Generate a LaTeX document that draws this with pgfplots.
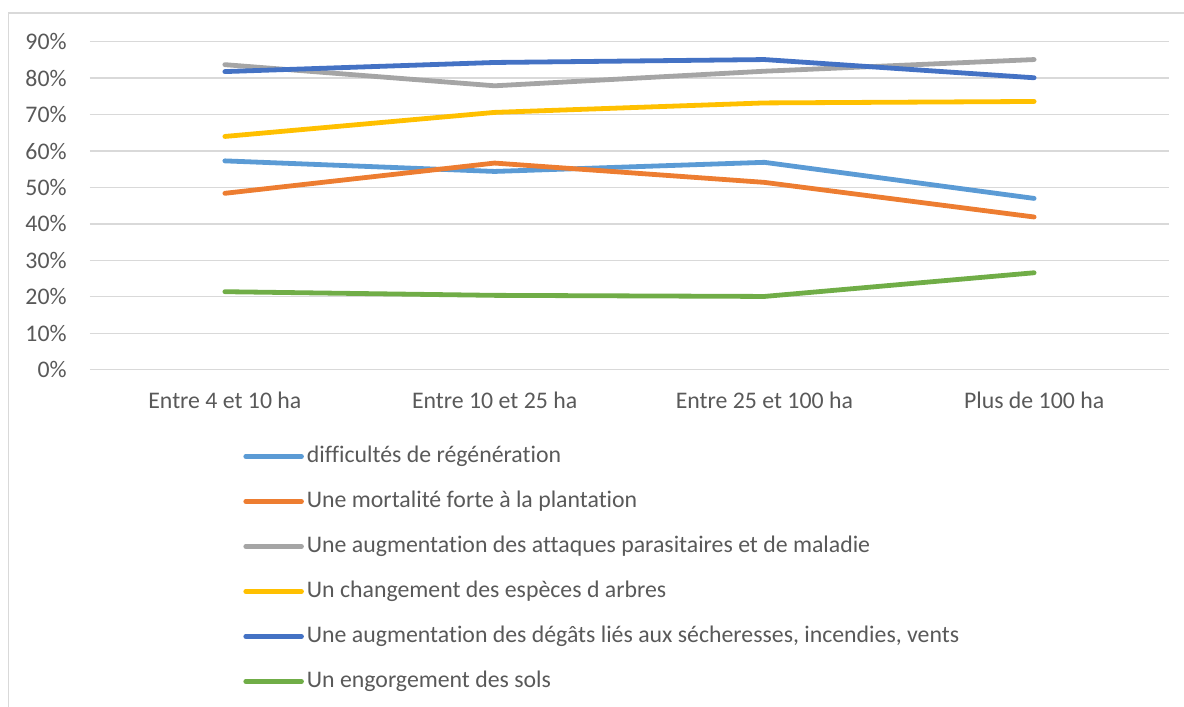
\documentclass[border=0pt]{standalone}
\usepackage{fontspec}
\setmainfont[Ligatures=NoCommon]{Carlito}
\usepackage{pgfplots}
\pgfplotsset{compat=1.18}
\definecolor{txt}{HTML}{595959}
\definecolor{grd}{HTML}{D9D9D9}
\definecolor{cA}{HTML}{5B9BD5}
\definecolor{cB}{HTML}{ED7D31}
\definecolor{cC}{HTML}{A5A5A5}
\definecolor{cD}{HTML}{FFC000}
\definecolor{cE}{HTML}{4472C4}
\definecolor{cF}{HTML}{70AD47}
\begin{document}
\begin{tikzpicture}
\path[use as bounding box] (0,0) rectangle (592pt,353.5pt);
\draw[grd, line width=0.9pt] (4.25pt,-5pt) -- (4.25pt,347pt) -- (600pt,347pt);
\begin{axis}[
 at={(45pt,168.65pt)}, anchor=south west,
 scale only axis, width=539.5pt, height=164pt,
 xmin=-0.5, xmax=3.5, ymin=0, ymax=90,
 xtick={0,1,2,3},
 xticklabels={Entre 4 et 10 ha, Entre 10 et 25 ha, Entre 25 et 100 ha, Plus de 100 ha},
 ytick={0,10,...,90},
 /pgf/number format/assume math mode=true,
 yticklabel={\pgfmathprintnumber{\tick}\%},
 axis line style={draw=none}, major tick length=0pt,
 ymajorgrids, grid style={grd, line width=0.65pt},
 tick label style={font=\fontsize{11.9}{14}\selectfont, text=txt},
 yticklabel style={anchor=east, inner sep=0pt, xshift=-11.5pt},
 xticklabel style={anchor=base, inner sep=0pt, yshift=-19.15pt},
 legend style={at={(axis description cs:0.1418,-0.2265)}, anchor=north west,
   draw=none, fill=none, inner sep=0pt, row sep=10.5pt, column sep=1.5pt,
   font=\fontsize{11.9}{14}\selectfont, text=txt,
   nodes={inner sep=0pt, text height=9pt, text depth=3pt}},
 legend cell align=left,
 legend image code/.code={\path (0pt,0pt) -- (27.85pt,0pt); \draw[#1, line cap=round] (1.2pt,0pt) -- (26.65pt,0pt);},
 every axis plot/.append style={line width=2.4pt, line cap=round, line join=round, mark=none},
 clip=false,
]
\addplot[cA] coordinates {(0,57.3) (1,54.4) (2,56.9) (3,47.0)};
\addlegendentry{difficultés de régénération}
\addplot[cB] coordinates {(0,48.4) (1,56.7) (2,51.4) (3,41.9)};
\addlegendentry{Une mortalité forte à la plantation}
\addplot[cC] coordinates {(0,83.7) (1,77.9) (2,81.9) (3,85.1)};
\addlegendentry{Une augmentation des attaques parasitaires et de maladie}
\addplot[cD] coordinates {(0,64.0) (1,70.6) (2,73.2) (3,73.6)};
\addlegendentry{Un changement des espèces d arbres}
\addplot[cE] coordinates {(0,81.8) (1,84.3) (2,85.1) (3,80.1)};
\addlegendentry{Une augmentation des dégâts liés aux sécheresses, incendies, vents}
\addplot[cF] coordinates {(0,21.4) (1,20.4) (2,20.1) (3,26.6)};
\addlegendentry{Un engorgement des sols}
\end{axis}
\end{tikzpicture}
\end{document}
